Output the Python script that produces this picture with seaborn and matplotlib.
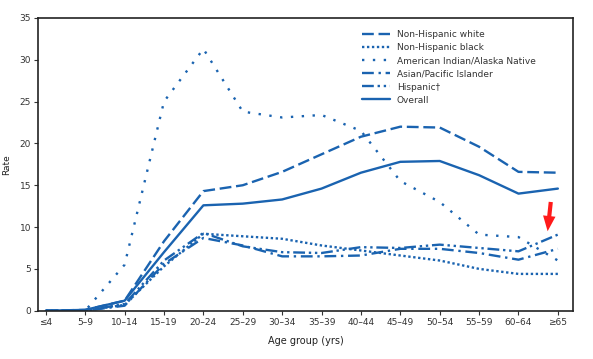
import matplotlib
matplotlib.use("Agg")
import matplotlib.pyplot as plt
import seaborn as sns
import pandas as pd

# age groups on the x axis
ages = ["≤4", "5–9", "10–14", "15–19", "20–24", "25–29", "30–34", "35–39",
        "40–44", "45–49", "50–54", "55–59", "60–64", "≥65"]

# rates
white = [0.0, 0.1, 1.2, 8.3, 14.3, 15.0, 16.6, 18.7, 20.8, 22.0, 21.9, 19.6, 16.6, 16.5]
black = [0.0, 0.0, 0.7, 5.3, 9.2, 8.9, 8.6, 7.8, 7.2, 6.6, 6.0, 5.0, 4.4, 4.4]
aian = [0.0, 0.0, 5.5, 25.0, 31.3, 23.8, 23.1, 23.4, 21.5, 15.5, 13.0, 9.1, 8.8, 6.0]
asian = [0.0, 0.0, 0.6, 5.6, 8.7, 7.8, 6.5, 6.5, 6.6, 7.4, 7.4, 6.9, 6.1, 7.4]
hispanic = [0.0, 0.0, 0.8, 6.0, 9.3, 7.7, 7.0, 6.9, 7.6, 7.5, 7.9, 7.5, 7.1, 9.1]
overall = [0.0, 0.1, 1.2, 7.0, 12.6, 12.8, 13.3, 14.6, 16.5, 17.8, 17.9, 16.2, 14.0, 14.6]

series = {
    "Non-Hispanic white": (white, (0, (5, 2))),
    "Non-Hispanic black": (black, (0, (1, 1.1))),
    "American Indian/Alaska Native": (aian, (0, (1, 3.6))),
    "Asian/Pacific Islander": (asian, (0, (5, 2, 1, 2))),
    "Hispanic†": (hispanic, (0, (5, 1.6, 1, 1.6, 1, 1.6))),
    "Overall": (overall, "-"),
}

blue = "#1a63b0"
sns.set_style("white")

fig = plt.figure(figsize=(5.93, 3.59), dpi=100)
ax = fig.add_axes([0.064, 0.1345, 0.902, 0.8155])

for name, (vals, ls) in series.items():
    df = pd.DataFrame({"age": ages, "rate": vals})
    sns.lineplot(data=df, x="age", y="rate", ax=ax, color=blue, lw=1.7,
                 linestyle=ls, label=name, sort=False)

# red arrow pointing at the >=65 Hispanic rate
ax.annotate("", xy=(12.74, 9.5), xytext=(12.82, 13.0),
            arrowprops=dict(arrowstyle="simple,head_width=0.9,head_length=1.1,tail_width=0.3",
                            mutation_scale=10, color="#ff1a1a", lw=0,
                            shrinkA=0, shrinkB=0))

ax.set_xlim(-0.2, 13.38)
ax.set_ylim(0, 35)
ax.set_yticks(range(0, 36, 5))
ax.tick_params(axis="both", labelsize=6.5, colors="#333333", length=3, width=0.8,
               direction="out", left=True, bottom=True, pad=2)
ax.set_xlabel("Age group (yrs)", fontsize=7, color="#222222", labelpad=7)
ax.set_ylabel("Rate", fontsize=6.5, color="#222222", labelpad=6)
for s in ax.spines.values():
    s.set_color("#222222")
    s.set_linewidth(1.2)

leg = ax.legend(loc="upper left", bbox_to_anchor=(0.6, 0.97), frameon=False,
                fontsize=6.5, handlelength=3.0, handletextpad=0.8,
                labelspacing=0.45, borderaxespad=0)
for t in leg.get_texts():
    t.set_color("#333333")

fig.savefig("out.png", dpi=100)
